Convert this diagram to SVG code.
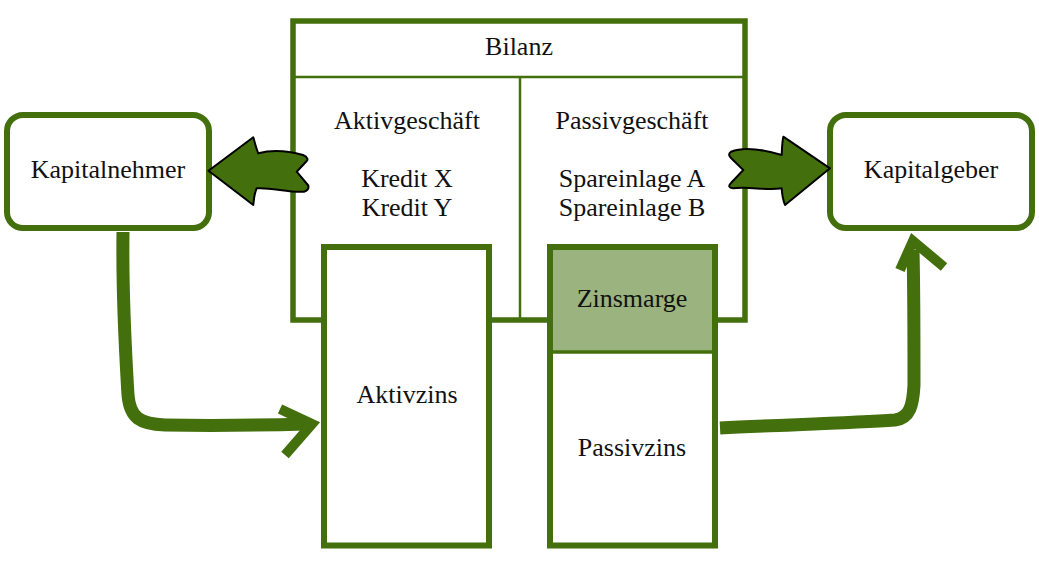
<svg xmlns="http://www.w3.org/2000/svg" width="1039" height="567" viewBox="0 0 1039 567">
<style>
text{font-family:"Liberation Serif","Times New Roman",serif;font-size:26px;fill:#111;text-anchor:middle}
.box{fill:#fff;stroke:#43700d;stroke-width:6}
.thin{stroke:#43700d;stroke-width:2.5;fill:none}
.fat{fill:#43700d;stroke:#000;stroke-width:2;stroke-linejoin:round}
.curve{fill:none;stroke:#43700d;stroke-width:13;stroke-linecap:butt;stroke-linejoin:round}
.head{fill:none;stroke:#43700d;stroke-width:10;stroke-linejoin:miter;stroke-miterlimit:10;stroke-linecap:butt}
</style>
<rect width="1039" height="567" fill="#fff"/>
<g id="bilanz">
<rect x="293" y="21" width="452" height="299" fill="#fff" stroke="#43700d" stroke-width="5.5"/>
<line class="thin" x1="293" y1="77" x2="745" y2="77"/>
<line class="thin" x1="520" y1="77" x2="520" y2="320"/>
<text x="519" y="55">Bilanz</text>
<text x="407" y="129">Aktivgeschäft</text>
<text x="407" y="187">Kredit X</text>
<text x="407" y="216">Kredit Y</text>
<text x="632" y="129">Passivgeschäft</text>
<text x="632" y="187">Spareinlage A</text>
<text x="632" y="216">Spareinlage B</text>
</g>
<g id="kapitalnehmer">
<rect class="box" x="7" y="115" width="202" height="113" rx="16"/>
<text x="108" y="178">Kapitalnehmer</text>
</g>
<g id="kapitalgeber">
<rect class="box" x="830" y="115" width="202" height="113" rx="16"/>
<text x="931" y="178">Kapitalgeber</text>
</g>
<g id="aktivzins">
<rect class="box" x="324" y="247" width="165" height="298.5"/>
<text x="407" y="403">Aktivzins</text>
</g>
<g id="zins">
<rect class="box" x="550" y="247" width="165" height="298.5"/>
<rect x="553" y="250" width="159" height="102" fill="#9bb37e"/>
<line x1="550" y1="352" x2="715" y2="352" stroke="#43700d" stroke-width="3.5"/>
<text x="632" y="307">Zinsmarge</text>
<text x="632" y="456">Passivzins</text>
</g>
<g id="connectors">
<path class="fat" d="M208.5,170.7 L253.3,137.3 C255,143 256,148 258.3,153.3 C275,149 292,152 303,155 C308,157 308,160 306.7,161 L296.7,171.7 L308.3,185.5 C309,189 307,191 304,191.7 C290,193 270,187 256.7,188.3 C254,194 254,199 253.3,205 Z"/>
<path class="fat" d="M830,168.3 L783.3,136.7 C782,143 782,149 781.7,155 C765,150 745,146 731,151.7 C728,154 729,156 731,158 L743.3,170 L731,183 C728,186 729,188 733,188.3 C750,186 765,191 781.7,188.3 C782,194 783,200 785,205 Z"/>
<path class="curve" d="M123,232 C122,300 126,360 128,395 C130,418 140,424 165,425 C220,426 270,425 306,424"/>
<path class="head" d="M280,409 L312,424 L285,455"/>
<path class="curve" d="M720,428 C780,425 850,423 895,420 C910,418 913,405 914,385 C914,330 914,290 913,250"/>
<path class="head" d="M900,270 L913,241 L944,267"/>
</g>
</svg>
